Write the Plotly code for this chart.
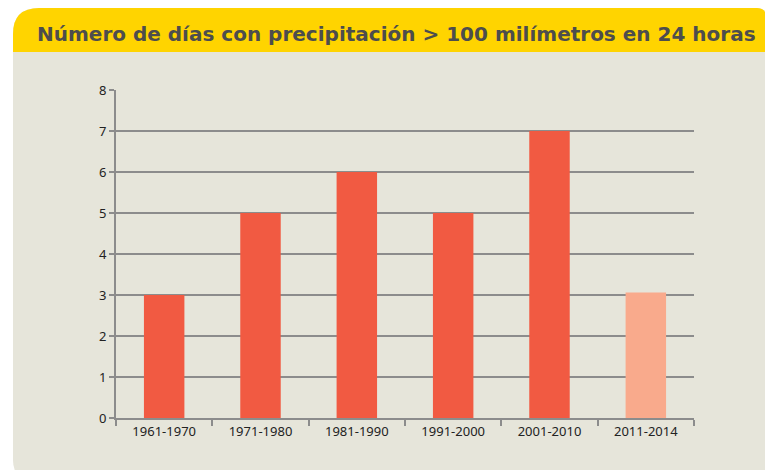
import plotly.graph_objects as go

# datos
periodos = ['1961-1970', '1971-1980', '1981-1990', '1991-2000', '2001-2010', '2011-2014']
dias = [3, 5, 6, 5, 7, 3.06]
colores = ['#f15a42', '#f15a42', '#f15a42', '#f15a42', '#f15a42', '#f9aa8c']
ticks_y = [0, 1, 2, 3, 4, 5, 6, 7, 8]

W, H = 765, 470
ML, MR, MT, MB = 116, 765 - 694, 90, 470 - 418
PW = W - ML - MR
PH = H - MT - MB


def px(x):
    return (x - ML) / PW


def py(y):
    return (H - MB - y) / PH


def caja(x0, y0, x1, y1, r_tl, r_tr, r_bl):
    # rectangulo con esquinas redondeadas, en pixeles -> paper
    p = f"M {px(x0)},{py(y0 + r_tl)} Q {px(x0)},{py(y0)} {px(x0 + r_tl)},{py(y0)} "
    p += f"L {px(x1 - r_tr)},{py(y0)} Q {px(x1)},{py(y0)} {px(x1)},{py(y0 + r_tr)} "
    p += f"L {px(x1)},{py(y1)} L {px(x0 + r_bl)},{py(y1)} "
    p += f"Q {px(x0)},{py(y1)} {px(x0)},{py(y1 - r_bl)} Z"
    return p


fig = go.Figure()

fig.add_trace(go.Bar(x=periodos, y=dias, marker=dict(color=colores, line_width=0),
                     width=0.42, showlegend=False))

fig.add_shape(type='path', xref='paper', yref='paper', layer='below',
              path=caja(13, 8, 766, 480, 26, 9, 20),
              fillcolor='#e6e5da', line_width=0)
fig.add_shape(type='path', xref='paper', yref='paper', layer='below',
              path=caja(13, 8, 766, 52, 26, 9, 0),
              fillcolor='#ffd400', line_width=0)

fig.add_annotation(text='<b>Número de días con precipitación > 100 milímetros en 24 horas</b>',
                   xref='paper', yref='paper', x=px(396), y=py(34),
                   xanchor='center', yanchor='middle', showarrow=False,
                   font=dict(family='DejaVu Sans', size=20, color='#4d4d4d'))

fig.update_yaxes(range=[0, 8], tickvals=ticks_y, showgrid=True, gridcolor='#8c8c8c',
                 gridwidth=2, showline=True, linecolor='#8c8c8c', linewidth=2,
                 ticks='outside', ticklen=5, tickcolor='#8c8c8c', tickwidth=2,
                 zeroline=False, tickfont=dict(size=13, color='#222222'))

fig.update_xaxes(showline=True, linecolor='#8c8c8c', linewidth=2, ticks='outside',
                 tickson='boundaries', ticklen=6, tickcolor='#8c8c8c', tickwidth=2,
                 showgrid=False, tickfont=dict(size=13, color='#222222'))

fig.update_layout(width=W, height=H, margin=dict(l=ML, r=MR, t=MT, b=MB),
                  paper_bgcolor='white', plot_bgcolor='rgba(0,0,0,0)',
                  bargap=0.58, font=dict(family='Noto Sans'))

# sin margen en el body para que la figura ocupe toda la ventana
fig.write_html("out.html", config={'displayModeBar': False},
               post_script="document.body.style.margin='0';document.body.style.overflow='hidden';")
